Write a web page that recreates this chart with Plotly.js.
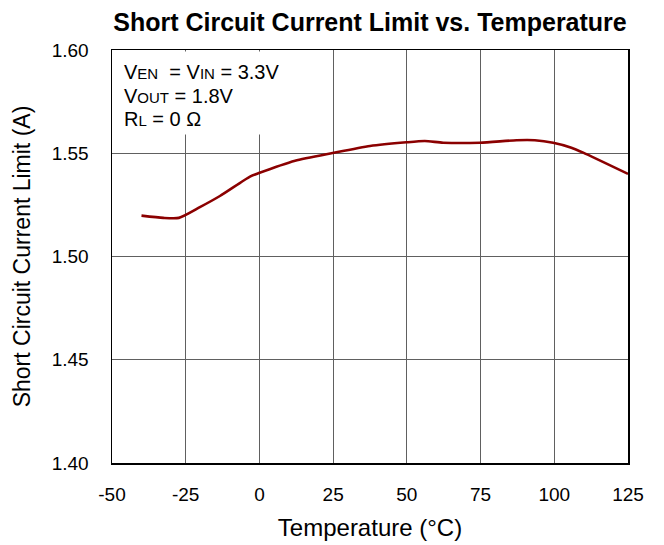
<!DOCTYPE html>
<html>
<head>
<meta charset="utf-8">
<script src="https://cdn.plot.ly/plotly-3.0.1.min.js"></script>
<style>html,body{margin:0;padding:0;background:#fff;}#chart{width:664px;height:545px;}</style>
</head>
<body>
<div id="chart"></div>
<script>
var temperature = [-40, -32.6, -27.3, -20.2, -13.4, -3.2, -0.4, 12.1, 24.8, 37.5, 49.9, 56.1, 62.3, 74.8, 87.2, 93.4, 99.6, 105.8, 109.8, 125];
var currentLimit = [1.5198, 1.5187, 1.5187, 1.5239, 1.5293, 1.5387, 1.5403, 1.5464, 1.5501, 1.5535, 1.5553, 1.5559, 1.5551, 1.5551, 1.5563, 1.5563, 1.5551, 1.5527, 1.5503, 1.5400];
var xTicks = [-50, -25, 0, 25, 50, 75, 100, 125];
var yTicks = [1.40, 1.45, 1.50, 1.55, 1.60];
var conditionLines = [
  'V<span style="font-size:15px">EN</span>  = V<span style="font-size:15px">IN</span> = 3.3V',
  'V<span style="font-size:15px">OUT</span> = 1.8V',
  'R<span style="font-size:15px">L</span> = 0 Ω'
];
var conditionY = [0.9467, 0.8898, 0.8329];

var FONT = 'Liberation Sans, Arial, sans-serif';
var trace = {
  x: temperature, y: currentLimit, type: 'scatter', mode: 'lines',
  line: {color: '#8B0000', width: 2.6, shape: 'spline', smoothing: 0.6},
  hoverinfo: 'skip', showlegend: false
};
var annotations = [{
  xref: 'paper', yref: 'paper', x: 0, y: 1, xanchor: 'left', yanchor: 'top',
  xshift: 1, yshift: -1, text: ' ', showarrow: false,
  bgcolor: '#fff', width: 151, height: 82, borderpad: 0
}];
conditionLines.forEach(function (t, i) {
  annotations.push({
    xref: 'paper', yref: 'paper', x: 0.019, y: conditionY[i], xanchor: 'left', yanchor: 'middle',
    text: t, align: 'left', showarrow: false,
    font: {size: 20, family: FONT, color: '#000'}
  });
});
var layout = {
  width: 664, height: 545,
  margin: {l: 112, r: 36, t: 50, b: 82},
  paper_bgcolor: '#fff', plot_bgcolor: '#fff',
  font: {family: FONT, color: '#000'},
  title: {text: 'Short Circuit Current Limit vs. Temperature', font: {family: FONT, size: 25, color: '#000', weight: 'bold'}, xref: 'paper', x: 0.5, xanchor: 'center', y: 0.96, yanchor: 'middle'},
  xaxis: {
    range: [-50, 125], tickvals: xTicks, ticktext: xTicks.map(String),
    showgrid: true, gridcolor: '#606060', gridwidth: 1, zeroline: false,
    showline: true, linecolor: '#000', linewidth: 1.5, mirror: true, ticks: '',
    tickfont: {size: 19, family: FONT, color: '#000'}, ticklabelstandoff: 14,
    title: {text: 'Temperature (°C)', font: {size: 24, family: FONT, color: '#000'}, standoff: 15}
  },
  yaxis: {
    range: [1.40, 1.60], tickvals: yTicks, ticktext: yTicks.map(function(v){return v.toFixed(2);}),
    showgrid: true, gridcolor: '#606060', gridwidth: 1, zeroline: false,
    showline: true, linecolor: '#000', linewidth: 1.5, mirror: true, ticks: '',
    tickfont: {size: 19, family: FONT, color: '#000'}, ticklabelstandoff: 18,
    title: {text: 'Short Circuit Current Limit (A)', font: {size: 23, family: FONT, color: '#000'}, standoff: 14}
  },
  annotations: annotations
};
Plotly.newPlot('chart', [trace], layout, {staticPlot: true, displayModeBar: false});
</script>
</body>
</html>
